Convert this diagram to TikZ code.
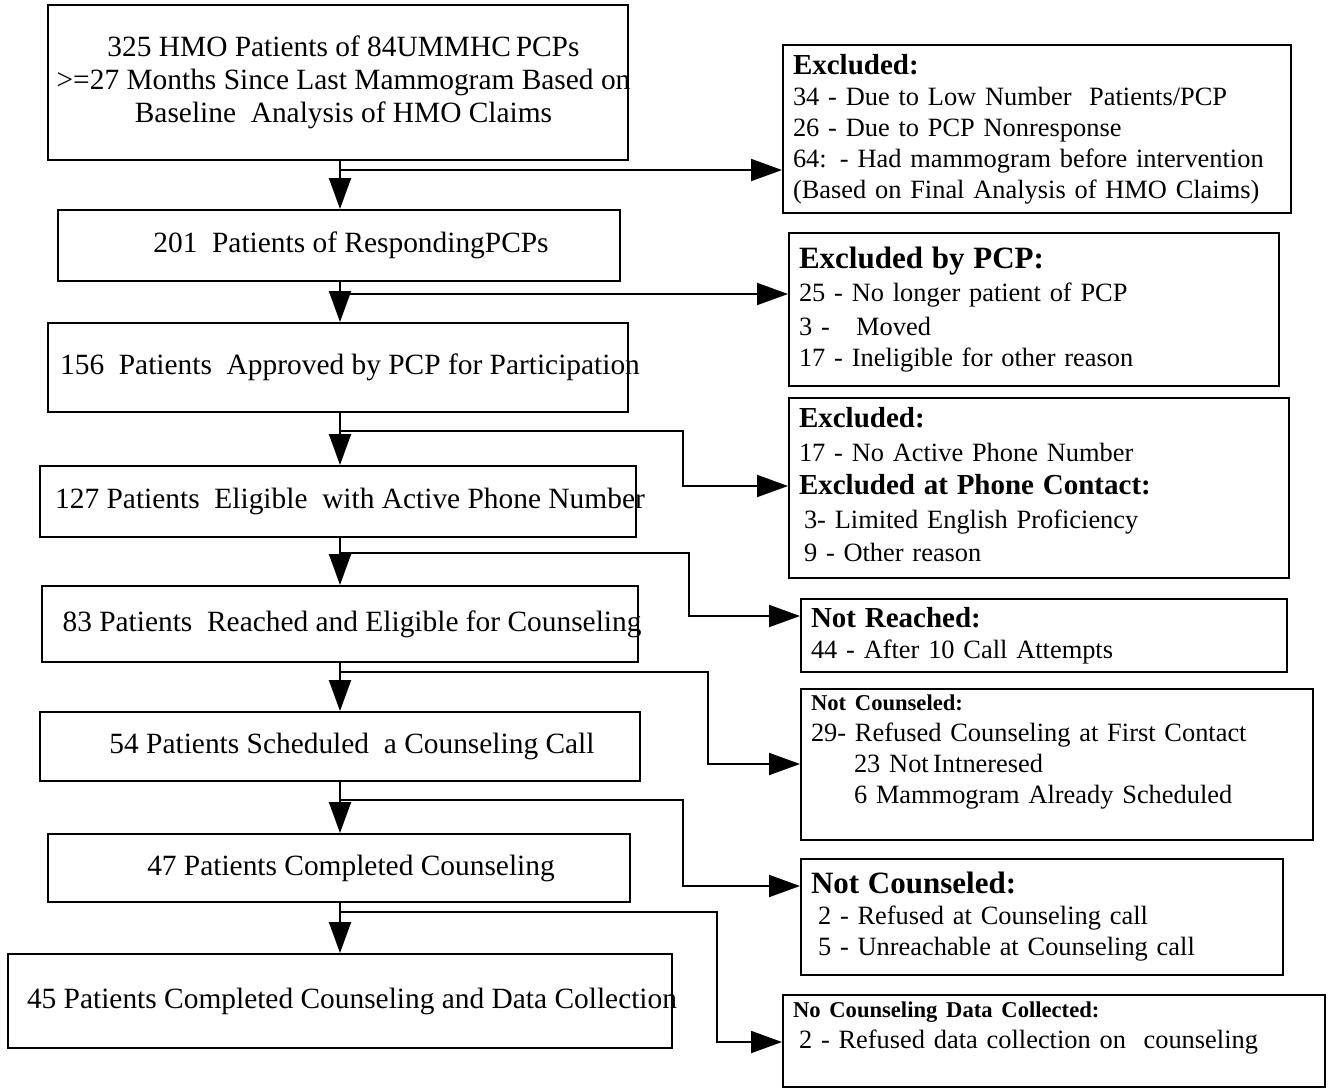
\documentclass[tikz,border=0pt]{standalone}
\usepackage{fontspec}
\setmainfont{Liberation Serif}
\usepackage{tikz}
\usetikzlibrary{arrows.meta,calc}
\newcommand{\leftfont}{\fontsize{14.7}{16.5}\selectfont}
\newcommand{\rightfont}{\fontsize{13.2}{15.5}\selectfont}
\newcommand{\widelines}{\fontsize{13.2}{16.75}\selectfont}
\newcommand{\headfont}{\fontsize{14.5}{15.5}\selectfont\bfseries}
\newcommand{\bighead}{\fontsize{15.5}{15.5}\selectfont\bfseries}
\newcommand{\smallhead}{\fontsize{11.3}{15.5}\selectfont\bfseries}
\newcommand{\ctr}[1]{\makebox[0pt]{\hspace*{12pt}#1}}
\tikzset{
  flowbox/.style ={draw=black,line width=1pt,inner sep=0pt},
  stepbox/.style ={flowbox,font=\leftfont,align=center},
  exbox/.style   ={flowbox,font=\rightfont,align=left,anchor=north west,inner xsep=5pt},
  flowarr/.style ={line width=1pt,-{Triangle[length=15.5pt,width=11pt]}},
}
% left column: name, centre x, centre y, width, height (px), text
\newcommand{\stepnode}[6]{%
  \node[stepbox,minimum width=#4*0.5pt,minimum height=#5*0.5pt] (#1) at (#2,#3) {\ctr{#6}};
}
% right column: name, corner x, corner y, width, height (px), text
\newcommand{\exnode}[6]{%
  \node[exbox,text width=#4*0.5pt-10pt,minimum height=#5*0.5pt] (#1) at (#2,#3) {#6};
}

\begin{document}
\begin{tikzpicture}[x=0.5pt,y=-0.5pt]
  \useasboundingbox (0,0) rectangle (1332,1089);
  \stepnode{p1}{338}{82.5}{580}{155}{\begin{tabular}{@{}c@{}}325 HMO Patients of 84UMMHC\,PCPs\\
    >=27 Months Since Last Mammogram Based on\\ Baseline~ Analysis of HMO Claims\end{tabular}\hspace*{6.5pt}}
  \stepnode{p2}{339}{245.5}{562}{71}{201~ Patients of RespondingPCPs}
  \stepnode{p3}{338}{367.5}{580}{89}{156~ Patients~ Approved by PCP for Participation}
  \stepnode{p4}{338}{501.5}{596}{71}{127 Patients~ Eligible~ with Active Phone Number}
  \stepnode{p5}{340}{624}{596}{76}{83 Patients~ Reached and Eligible for Counseling}
  \stepnode{p6}{340}{746.5}{600}{69}{54 Patients Scheduled~ a Counseling Call}
  \stepnode{p7}{339}{868}{582}{68}{47 Patients Completed Counseling}
  \stepnode{p8}{340}{1001}{664}{94}{45 Patients Completed Counseling and Data Collection}

  \exnode{x1}{782}{44}{508}{168}{{\headfont Excluded:}\\
    34 - Due to Low Number~ Patients/PCP\\ 26 - Due to PCP Nonresponse\\
    64: - Had mammogram before intervention\\ (Based on Final Analysis of HMO Claims)}
  \exnode{x2}{788}{232}{490}{153}{\widelines{\bighead Excluded by PCP:}\\
    25 - No longer patient of PCP\\ 3 -\ \ \ Moved\\ 17 - Ineligible for other reason}
  \exnode{x3}{788}{397}{500}{180}{\widelines{\headfont Excluded:}\\
    17 - No Active Phone Number\\ {\headfont Excluded at Phone Contact:}\\
    \hspace*{2.5pt}3- Limited English Proficiency\\ \hspace*{2.5pt}9 - Other reason\\[-12pt] \mbox{}}
  \exnode{x4}{800}{598}{486}{73}{{\headfont Not Reached:}\\ 44 - After 10 Call Attempts}
  \exnode{x5}{800}{688}{512}{151}{{\smallhead Not Counseled:}\\
    29- Refused Counseling at First Contact\\ \hspace*{21.5pt}23 Not\,Intneresed\\
    \hspace*{21.5pt}6 Mammogram Already Scheduled\\ \mbox{}}
  \exnode{x6}{800}{858}{482}{116}{{\bighead Not Counseled:}\\
    \hspace*{3.5pt}2 - Refused at Counseling call\\ \hspace*{3.5pt}5 - Unreachable at Counseling call}
  \exnode{x7}{782}{994}{542}{92}{{\smallhead No Counseling Data Collected:}\\
    \hspace*{3pt}2 - Refused data collection on~ counseling\\ \mbox{}}

  % branch points on the main line, and lower corners of the jogs
  \coordinate (j1) at (340,170);
  \coordinate (j2) at (340,294);
  \coordinate (j3) at (340,431);  \coordinate (k3) at (683,486);
  \coordinate (j4) at (340,553);  \coordinate (k4) at (689,616);
  \coordinate (j5) at (340,672);  \coordinate (k5) at (708,764);
  \coordinate (j6) at (340,800);  \coordinate (k6) at (683,886);
  \coordinate (j7) at (340,912);  \coordinate (k7) at (717,1042);

  \draw[flowarr] (p1.south -| j1) -- (p2.north -| j1);
  \draw[flowarr] (p2.south -| j2) -- (p3.north -| j2);
  \draw[flowarr] (p3.south -| j3) -- (p4.north -| j3);
  \draw[flowarr] (p4.south -| j4) -- (p5.north -| j4);
  \draw[flowarr] (p5.south -| j5) -- (p6.north -| j5);
  \draw[flowarr] (p6.south -| j6) -- (p7.north -| j6);
  \draw[flowarr] (p7.south -| j7) -- (p8.north -| j7);

  \draw[flowarr] (j1) -- (x1.west |- j1);
  \draw[flowarr] (j2) -- (x2.west |- j2);
  \draw[flowarr] (j3) -| (k3) -- (x3.west |- k3);
  \draw[flowarr] (j4) -| (k4) -- (x4.west |- k4);
  \draw[flowarr] (j5) -| (k5) -- (x5.west |- k5);
  \draw[flowarr] (j6) -| (k6) -- (x6.west |- k6);
  \draw[flowarr] (j7) -| (k7) -- (x7.west |- k7);
\end{tikzpicture}
\end{document}
